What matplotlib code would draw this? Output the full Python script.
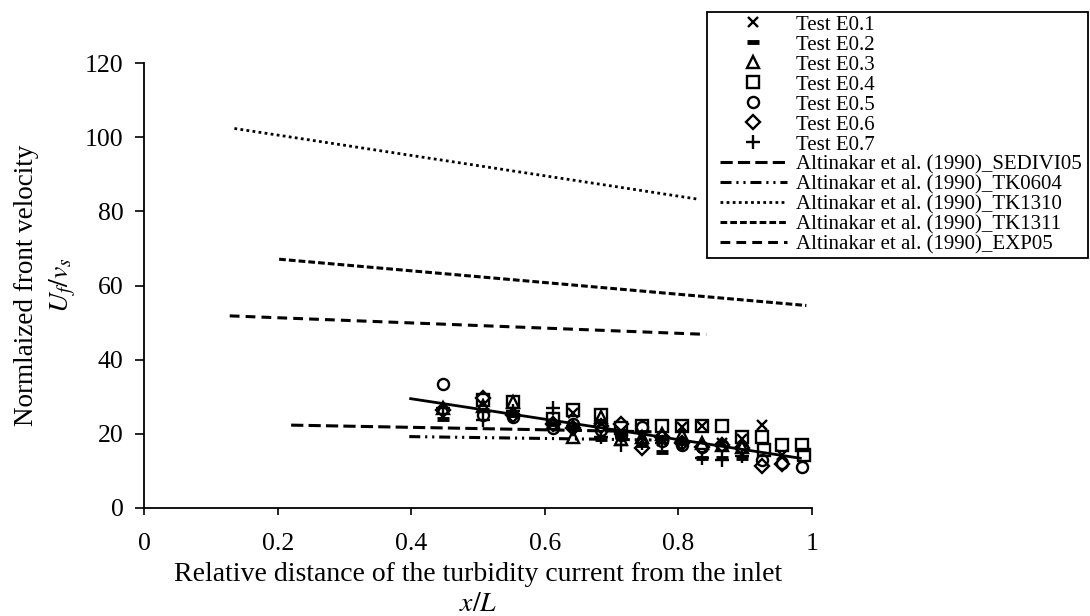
import matplotlib
matplotlib.use("Agg")
import matplotlib.pyplot as plt
from matplotlib.patches import Rectangle

# ---- data ----
x_e01 = [0.643, 0.685, 0.715, 0.745, 0.775, 0.805, 0.835, 0.865, 0.895, 0.925, 0.955]
y_e01 = [25.5, 23.0, 20.0, 19.0, 18.0, 21.8, 22.0, 17.5, 18.5, 22.3, 14.2]

x_e02 = [0.448, 0.507, 0.553, 0.612, 0.643, 0.685, 0.715, 0.745, 0.775, 0.805, 0.835, 0.865, 0.895]
y_e02 = [24.0, 26.5, 25.0, 22.5, 21.5, 18.5, 19.2, 17.0, 15.0, 17.5, 13.3, 13.3, 13.3]

x_e03 = [0.448, 0.507, 0.553, 0.612, 0.643, 0.685, 0.715, 0.745, 0.775, 0.805, 0.835, 0.865, 0.895]
y_e03 = [27.0, 27.5, 28.5, 23.0, 19.0, 24.5, 18.5, 19.0, 20.0, 19.5, 17.5, 17.0, 16.5]

x_e04 = [0.507, 0.553, 0.612, 0.643, 0.685, 0.715, 0.745, 0.775, 0.805, 0.835, 0.865, 0.895, 0.925, 0.928, 0.955, 0.985, 0.988]
y_e04 = [29.0, 28.5, 24.0, 26.5, 25.0, 21.5, 22.0, 22.0, 22.0, 22.0, 22.0, 19.2, 19.2, 15.6, 16.8, 16.8, 14.2]

x_e05 = [0.448, 0.507, 0.553, 0.612, 0.643, 0.685, 0.715, 0.745, 0.775, 0.805, 0.835, 0.865, 0.895, 0.925, 0.955, 0.985]
y_e05 = [33.3, 25.0, 24.5, 21.5, 22.5, 21.0, 19.5, 21.9, 18.0, 17.0, 16.5, 17.0, 16.5, 13.0, 12.0, 11.1]

x_e06 = [0.448, 0.507, 0.553, 0.612, 0.643, 0.685, 0.715, 0.745, 0.775, 0.805, 0.835, 0.865, 0.895, 0.925, 0.955]
y_e06 = [26.5, 29.5, 25.0, 22.5, 21.5, 22.0, 22.5, 16.0, 19.0, 17.5, 16.5, 17.0, 16.0, 11.3, 11.8]

x_e07 = [0.448, 0.507, 0.553, 0.612, 0.643, 0.685, 0.715, 0.745, 0.775, 0.805, 0.835, 0.865, 0.895]
y_e07 = [27.0, 23.7, 26.0, 26.8, 22.0, 19.0, 17.0, 17.5, 17.5, 17.5, 13.5, 12.8, 14.0]

x_sedivi05 = [0.220, 0.760]
y_sedivi05 = [22.3, 20.5]
x_tk0604 = [0.397, 0.760]
y_tk0604 = [19.2, 18.3]
x_tk1310 = [0.135, 0.830]
y_tk1310 = [102.4, 83.3]
x_tk1311 = [0.202, 0.992]
y_tk1311 = [67.1, 54.6]
x_exp05 = [0.128, 0.842]
y_exp05 = [51.8, 46.8]
x_trend = [0.397, 0.985]
y_trend = [29.5, 13.3]

x_ticks = [0, 0.2, 0.4, 0.6, 0.8, 1]
x_ticklabels = ["0", "0.2", "0.4", "0.6", "0.8", "1"]
y_ticks = [0, 20, 40, 60, 80, 100, 120]

# ---- style ----
plt.rcParams['font.family'] = ['Liberation Serif', 'DejaVu Serif']
plt.rcParams['mathtext.fontset'] = 'stix'

W, H = 1090, 616
fig = plt.figure(figsize=(W/100, H/100), dpi=100)
ax = fig.add_axes([144.3/W, 1-507.7/H, (811.7-144.3)/W, (507.7-63.3)/H])

mk = dict(linestyle='none', color='black', markerfacecolor='none', markeredgecolor='black')
ax.plot(x_e01, y_e01, marker='x', markersize=7.5, markeredgewidth=1.7, label='Test E0.1', **mk)
ax.plot(x_e02, y_e02, marker='_', markersize=9, markeredgewidth=3.5, label='Test E0.2', **mk)
ax.plot(x_e03, y_e03, marker='^', markersize=8, markeredgewidth=1.7, label='Test E0.3', **mk)
ax.plot(x_e04, y_e04, marker='s', markersize=8, markeredgewidth=1.7, label='Test E0.4', **mk)
ax.plot(x_e05, y_e05, marker='o', markersize=8, markeredgewidth=1.7, label='Test E0.5', **mk)
ax.plot(x_e06, y_e06, marker='D', markersize=7.5, markeredgewidth=1.7, label='Test E0.6', **mk)
ax.plot(x_e07, y_e07, marker='+', markersize=9.5, markeredgewidth=1.7, label='Test E0.7', **mk)

ax.plot(x_sedivi05, y_sedivi05, color='black', lw=2.2, linestyle=(0, (4.0, 1.7)),
        dash_capstyle='butt', label='Altinakar et al. (1990)_SEDIVI05')
ax.plot(x_tk0604, y_tk0604, color='black', lw=2.2, linestyle=(0, (3.6, 1.6, 0.7, 1.6, 0.7, 1.6)),
        dash_capstyle='butt', label='Altinakar et al. (1990)_TK0604')
ax.plot(x_tk1310, y_tk1310, color='black', lw=2.0, linestyle=(0, (1.0, 1.2)),
        dash_capstyle='butt', label='Altinakar et al. (1990)_TK1310')
ax.plot(x_tk1311, y_tk1311, color='black', lw=2.2, linestyle=(0, (2.2, 1.0)),
        dash_capstyle='butt', label='Altinakar et al. (1990)_TK1311')
ax.plot(x_exp05, y_exp05, color='black', lw=2.2, linestyle=(0, (3.2, 2.0)),
        dash_capstyle='butt', label='Altinakar et al. (1990)_EXP05')
ax.plot(x_trend, y_trend, color='black', lw=2.0, solid_capstyle='butt')

ax.set_xlim(0, 1)
ax.set_ylim(0, 120)
ax.set_xticks(x_ticks)
ax.set_xticklabels(x_ticklabels)
ax.set_yticks(y_ticks)
for s in ['top', 'right']:
    ax.spines[s].set_visible(False)
for s in ['left', 'bottom']:
    ax.spines[s].set_linewidth(1.3)
ax.tick_params(axis='x', direction='out', length=5.3, width=1.2, labelsize=18.5, pad=13)
ax.tick_params(axis='y', direction='out', length=6.5, width=1.2, labelsize=18.5, pad=8.5)

# axis titles (two lines each)
cx = (144.3 + 811.7) / 2 / W
fig.text(cx, 1 - 581/H, "Relative distance of the turbidity current from the inlet",
         ha='center', va='baseline', fontsize=20)
fig.text(cx, 1 - 611/H, "$x/L$", ha='center', va='baseline', fontsize=20)
cy = 1 - (63.3 + 507.7) / 2 / H
fig.text(27/W, cy, "Normlaized front velocity", rotation=90, ha='center', va='center', fontsize=19.5)
fig.text(63/W, cy, "$U_f/v_s$", rotation=90, ha='center', va='center', fontsize=20)

# legend frame (drawn separately to match the reference's padding)
frame = Rectangle((707/W, 1-258/H), (1088-707)/W, (258-11.7)/H, transform=fig.transFigure,
                  facecolor='white', edgecolor='black', linewidth=1.3, zorder=3)
fig.patches.append(frame)

leg = fig.legend(loc='upper left', bbox_to_anchor=(720/W, 1-15/H), borderaxespad=0,
                 fontsize=15, frameon=False, numpoints=1, handlelength=3.2,
                 handletextpad=0.45, labelspacing=0.02, borderpad=0)
leg.set_zorder(4)

fig.savefig("out.png", dpi=100)
